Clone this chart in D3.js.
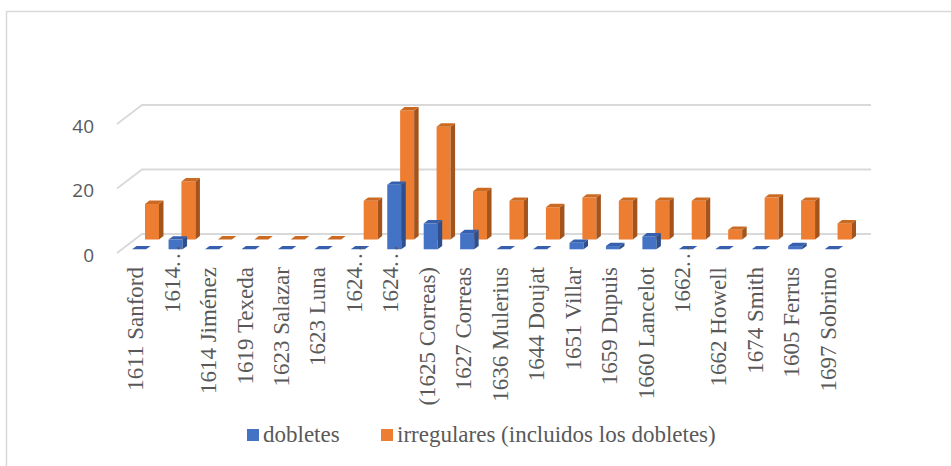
<!DOCTYPE html>
<html>
<head>
<meta charset="utf-8">
<script src="https://cdn.jsdelivr.net/npm/d3@7"></script>
<style>
  html, body { margin: 0; padding: 0; background: #fff; }
  svg { display: block; }
</style>
</head>
<body>
<div id="chart"></div>
<script>
// ---- data ----
const categories = [
  "1611 Sanford", "1614…", "1614 Jiménez", "1619 Texeda", "1623 Salazar",
  "1623 Luna", "1624…", "1624…", "(1625 Correas)", "1627 Correas",
  "1636 Mulerius", "1644 Doujat", "1651 Villar", "1659 Dupuis", "1660 Lancelot",
  "1662…", "1662 Howell", "1674 Smith", "1605 Ferrus", "1697 Sobrino"
];
const dobletes    = [0, 3, 0, 0, 0, 0, 0, 20, 8, 5, 0, 0, 2, 1, 4, 0, 0, 0, 1, 0];
const irregulares = [11, 18, 0, 0, 0, 0, 12, 40, 35, 15, 12, 10, 13, 12, 12, 12, 3, 13, 12, 5];
const seriesNames = ["dobletes", "irregulares (incluidos los dobletes)"];
const yTicks = [0, 20, 40];

// ---- layout ----
const W = 951, H = 466;
const svg = d3.select("#chart").append("svg").attr("width", W).attr("height", H);

// chart border
svg.append("rect").attr("x", 6.5).attr("y", 11.5).attr("width", 980).attr("height", 480)
  .attr("fill", "#fff").attr("stroke", "#d9d9d9").attr("stroke-width", 1.5);

const bandX = d3.scaleBand().domain(d3.range(categories.length)).range([117, 846]);
const y = d3.scaleLinear().domain([0, 40]).range([253, 124]);
const DX = 25, DY = -19; // depth vector for full floor depth
const proj = (X, d, v) => [X + DX * d, y(v) + DY * d];

// gridlines (side wall + back wall)
const grid = svg.append("g");
yTicks.forEach(t => {
  const p = [proj(117, 0, t), proj(117, 1, t), proj(871 - DX, 1, t)];
  grid.append("path").attr("d", d3.line()(p))
    .attr("fill", "none").attr("stroke", "#d9d9d9").attr("stroke-width", 1.8);
});

// y tick labels
svg.append("g").selectAll("text").data(yTicks).join("text")
  .attr("x", 94).attr("y", d => y(d) + 2).attr("dy", "0.36em")
  .attr("text-anchor", "end")
  .attr("font-family", "'Open Sans', 'Noto Sans', sans-serif")
  .attr("font-size", 19).attr("fill", "#595959")
  .text(d => d);

// bars
const barW = 14, barD = 0.18;
const series = [
  { name: seriesNames[1], values: irregulares, d0: 0.71,
    front: "#ED7D31", top: "#CC6A22", side: "#A4531B" },
  { name: seriesNames[0], values: dobletes, d0: 0.195,
    front: "#4472C4", top: "#3660AE", side: "#2D4F8E" }
];
const poly = pts => "M" + pts.map(p => p.join(",")).join("L") + "Z";

series.forEach(s => {
  const g = svg.append("g");
  s.values.forEach((v, i) => {
    const L = bandX(i) + bandX.bandwidth() / 2 - 8, R = L + barW;
    const d0 = s.d0, d1 = s.d0 + barD;
    if (v > 0) {
      g.append("path").attr("d", poly([proj(L, d0, 0), proj(R, d0, 0), proj(R, d0, v), proj(L, d0, v)]))
        .attr("fill", s.front);
      g.append("path").attr("d", poly([proj(R, d0, 0), proj(R, d1, 0), proj(R, d1, v), proj(R, d0, v)]))
        .attr("fill", s.side);
    }
    g.append("path").attr("d", poly([proj(L, d0, v), proj(R, d0, v), proj(R, d1, v), proj(L, d1, v)]))
      .attr("fill", s.top);
  });
});

// category labels
const labG = svg.append("g")
  .attr("font-family", "'Liberation Serif', 'DejaVu Serif', serif")
  .attr("font-size", 23).attr("fill", "#595959");
categories.forEach((c, i) => {
  const bx = bandX(i) + bandX.bandwidth() / 2 + 8;
  const truncated = c.endsWith("…");
  const main = truncated ? c.slice(0, -1) : c;
  labG.append("text")
    .attr("transform", `translate(${bx},267) rotate(-90)`)
    .attr("text-anchor", "end").text(main);
  if (truncated) {
    labG.append("text")
      .attr("transform", `translate(${bx},267) rotate(-90)`)
      .attr("text-anchor", "start").attr("letter-spacing", 2.3).text("...");
  }
});

// legend
const legend = [
  { name: seriesNames[0], color: "#4472C4", x: 247 },
  { name: seriesNames[1], color: "#ED7D31", x: 381 }
];
const lg = svg.append("g");
legend.forEach(l => {
  lg.append("rect").attr("x", l.x).attr("y", 429).attr("width", 12).attr("height", 12).attr("fill", l.color);
  lg.append("text").attr("x", l.x + 16).attr("y", 442)
    .attr("font-family", "'Liberation Serif', 'DejaVu Serif', serif")
    .attr("font-size", 23).attr("fill", "#595959").text(l.name);
});
</script>
</body>
</html>
